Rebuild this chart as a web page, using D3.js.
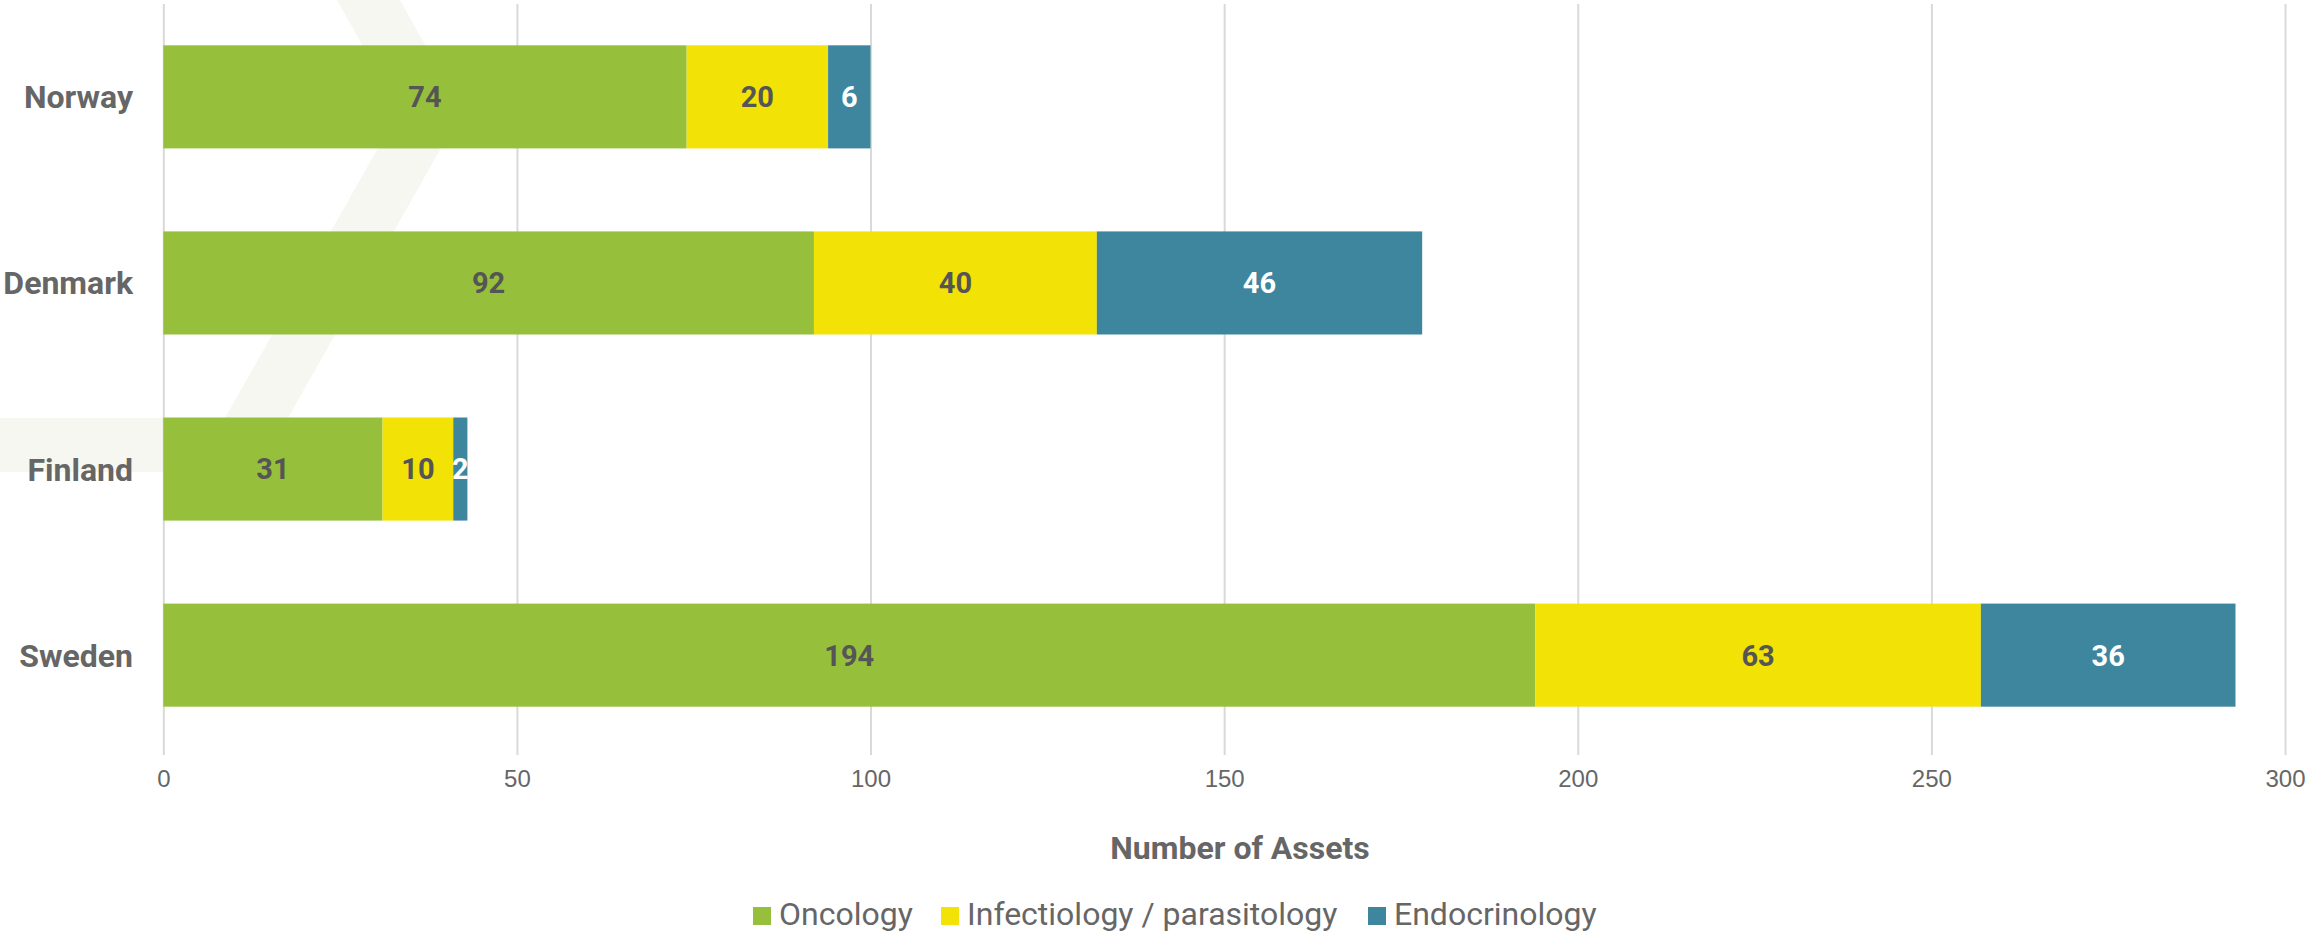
<!DOCTYPE html>
<html>
<head>
<meta charset="utf-8">
<script src="https://cdn.jsdelivr.net/npm/d3@7"></script>
<style>
  html, body { margin: 0; padding: 0; background: #fff; }
  svg { display: block; font-family: Roboto, "Noto Sans", sans-serif; }
</style>
</head>
<body>
<div id="chart"></div>
<script>
// data
var countries = ["Norway", "Denmark", "Finland", "Sweden"];
var seriesNames = ["Oncology", "Infectiology / parasitology", "Endocrinology"];
var oncology = [74, 92, 31, 194];
var infectiology = [20, 40, 10, 63];
var endocrinology = [6, 46, 2, 36];
var xTicks = [0, 50, 100, 150, 200, 250, 300];
var colors = ["#96c03c", "#f2e205", "#3e869e"];
var labelColors = ["#555555", "#555555", "#ffffff"];

var width = 2307, height = 933;

var svg = d3.select("#chart").append("svg")
  .attr("width", width)
  .attr("height", height);

// faint watermark shape behind the plot
svg.append("path")
  .attr("d", "M337,0 L400,0 L462,111 L288,418 L258,472 L0,472 L0,418 L225,418 L399,111 Z")
  .attr("fill", "#f6f7f0");

var xScale = d3.scaleLinear()
  .domain([0, 300])
  .range([163.3, 2285]);

var yScale = d3.scaleBand()
  .domain(countries)
  .range([4, 748])
  .paddingInner(0.446)
  .paddingOuter(0.222);

// gridlines + tick labels
var xAxis = d3.axisBottom(xScale)
  .tickValues(xTicks)
  .tickSize(-751)
  .tickFormat(function(d) { return "" + d; });

var gx = svg.append("g")
  .attr("class", "x-axis")
  .attr("transform", "translate(0,755)")
  .call(xAxis);

gx.select(".domain").remove();
gx.selectAll(".tick line")
  .attr("stroke", "#d9d9d9")
  .attr("stroke-width", 2);
gx.selectAll(".tick text")
  .attr("y", 32)
  .attr("dy", null)
  .attr("fill", "#666666")
  .style("font-size", "24px");

// stacked rows
var rows = countries.map(function(c, i) {
  return { country: c, Oncology: oncology[i], Infectiology: infectiology[i], Endocrinology: endocrinology[i] };
});
var keys = ["Oncology", "Infectiology", "Endocrinology"];
var stacked = d3.stack().keys(keys)(rows);

var layers = svg.selectAll(".layer")
  .data(stacked)
  .enter()
  .append("g")
  .attr("class", "layer")
  .attr("fill", function(d, i) { return colors[i]; });

layers.selectAll("rect")
  .data(function(d) { return d; })
  .enter()
  .append("rect")
  .attr("x", function(d) { return xScale(d[0]); })
  .attr("y", function(d) { return yScale(d.data.country); })
  .attr("width", function(d) { return xScale(d[1]) - xScale(d[0]); })
  .attr("height", yScale.bandwidth());

// value labels
stacked.forEach(function(layer, i) {
  svg.append("g")
    .selectAll("text")
    .data(layer)
    .enter()
    .append("text")
    .attr("x", function(d) { return (xScale(d[0]) + xScale(d[1])) / 2; })
    .attr("y", function(d) { return yScale(d.data.country) + yScale.bandwidth() / 2; })
    .attr("dy", "0.36em")
    .attr("text-anchor", "middle")
    .attr("fill", labelColors[i])
    .style("font-size", "29px")
    .style("font-weight", "bold")
    .text(function(d) { return d[1] - d[0]; });
});

// category labels
svg.append("g")
  .selectAll("text")
  .data(countries)
  .enter()
  .append("text")
  .attr("x", 133)
  .attr("y", function(d) { return yScale(d) + yScale.bandwidth() / 2; })
  .attr("dy", "0.36em")
  .attr("text-anchor", "end")
  .attr("fill", "#666666")
  .style("font-size", "32px")
  .style("font-weight", "bold")
  .text(function(d) { return d; });

// axis title
svg.append("text")
  .attr("x", 1240)
  .attr("y", 859)
  .attr("text-anchor", "middle")
  .attr("fill", "#666666")
  .style("font-size", "32px")
  .style("font-weight", "bold")
  .text("Number of Assets");

// legend
var legendX = [753, 941, 1368];
var legend = svg.append("g").attr("class", "legend");
seriesNames.forEach(function(name, i) {
  legend.append("rect")
    .attr("x", legendX[i])
    .attr("y", 907)
    .attr("width", 18)
    .attr("height", 18)
    .attr("fill", colors[i]);
  legend.append("text")
    .attr("x", legendX[i] + 26)
    .attr("y", 925)
    .attr("fill", "#666666")
    .style("font-size", "32px")
    .text(name);
});
</script>
</body>
</html>
